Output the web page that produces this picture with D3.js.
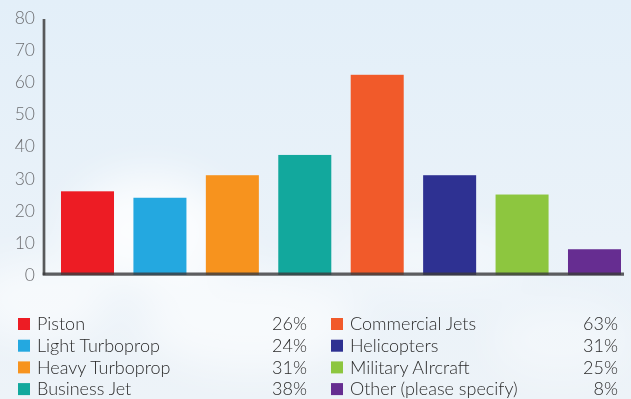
<!DOCTYPE html>
<html>
<head>
<meta charset="utf-8">
<script src="https://cdn.jsdelivr.net/npm/d3@7"></script>
<style>
  html, body { margin: 0; padding: 0; }
  body { width: 631px; height: 399px; overflow: hidden; }
  text { font-family: Lato, "Open Sans", sans-serif; }
</style>
</head>
<body>
<div id="vis"></div>
<script>
// aircraft types, bar values, legend labels
const categories = ['Piston', 'Light Turboprop', 'Heavy Turboprop', 'Business Jet',
                    'Commercial Jets', 'Helicopters', 'Military AIrcraft', 'Other (please specify)']
const values = [26, 24, 31, 37.3, 62.2, 31, 25, 8]
const pctLabels = ['26%', '24%', '31%', '38%', '63%', '31%', '25%', '8%']
const colors = ['#ed1c24', '#24a8e0', '#f7931e', '#12a89d', '#f15a2a', '#2e3192', '#8dc63f', '#662d91']
const yTicks = [0, 10, 20, 30, 40, 50, 60, 70, 80]

const W = 631, H = 399

const svg = d3.select('#vis')
    .append('svg')
    .attr('width', W)
    .attr('height', H)

// sky background
const defs = svg.append('defs')
const sky = defs.append('linearGradient').attr('id', 'sky')
    .attr('x1', 0).attr('y1', 0).attr('x2', 0).attr('y2', 1)
sky.append('stop').attr('offset', '0%').attr('stop-color', '#e3eff9')
sky.append('stop').attr('offset', '60%').attr('stop-color', '#eaf2f9')
sky.append('stop').attr('offset', '100%').attr('stop-color', '#edf3f8')

defs.append('filter').attr('id', 'blur')
    .attr('x', '-50%').attr('y', '-50%').attr('width', '200%').attr('height', '200%')
  .append('feGaussianBlur').attr('stdDeviation', 20)

svg.append('rect').attr('width', W).attr('height', H).attr('fill', 'url(#sky)')

// soft clouds
const clouds = [
  {x: 150, y: 230, rx: 80, ry: 55, o: 0.8},
  {x: 40, y: 300, rx: 70, ry: 40, o: 0.6},
  {x: 250, y: 320, rx: 110, ry: 50, o: 0.6},
  {x: 430, y: 260, rx: 100, ry: 35, o: 0.4},
  {x: 560, y: 340, rx: 70, ry: 40, o: 0.35}
]
svg.append('g').attr('filter', 'url(#blur)')
  .selectAll('ellipse')
  .data(clouds)
  .join('ellipse')
    .attr('cx', d => d.x).attr('cy', d => d.y)
    .attr('rx', d => d.rx).attr('ry', d => d.ry)
    .attr('fill', '#ffffff')
    .attr('opacity', d => d.o)

const axisX = 44, axisRight = 624

const xScale = d3.scaleBand()
    .domain(categories)
    .range([axisX, axisRight])
    .paddingInner(0.268)
    .paddingOuter(0.138)
    .align(0.85)

const yScale = d3.scaleLinear()
    .domain([0, 80])
    .range([275, 17.5])

// tick labels
svg.append('g')
  .selectAll('text')
  .data(yTicks)
  .join('text')
    .attr('x', 35)
    .attr('y', d => yScale(d))
    .attr('dy', '0.35em')
    .attr('text-anchor', 'end')
    .attr('font-size', 17.5)
    .attr('font-weight', 300)
    .attr('fill', '#6d6e71')
    .text(d => d)

// bars
const bars = svg.append('g')
  .selectAll('rect')
  .data(values)
  .join('rect')
    .attr('x', (d, i) => xScale(categories[i]))
    .attr('y', d => yScale(d))
    .attr('width', xScale.bandwidth())
    .attr('height', d => yScale(0) - yScale(d))
    .attr('fill', (d, i) => colors[i])

// axis lines
svg.append('line')
    .attr('x1', axisX).attr('x2', axisX)
    .attr('y1', yScale(80) + 1.5).attr('y2', yScale(0))
    .attr('stroke', '#58595b').attr('stroke-width', 2.7)
svg.append('line')
    .attr('x1', axisX - 1.3).attr('x2', axisRight)
    .attr('y1', yScale(0) - 0.8).attr('y2', yScale(0) - 0.8)
    .attr('stroke', '#3a3b3d').attr('stroke-width', 3.2)
    .attr('stroke-opacity', 0.82)

// commercial jets bar sits over the axis
bars.filter((d, i) => i === 4).raise()

// legend, two columns of four
const legend = svg.append('g')
const cols = [{sx: 18, tx: 37, px: 307}, {sx: 331, tx: 350, px: 618}]

const rows = legend.selectAll('g')
  .data(categories)
  .join('g')
    .attr('transform', (d, i) => `translate(0, ${324 + (i % 4) * 21.7})`)

rows.append('rect')
    .attr('x', (d, i) => cols[Math.floor(i / 4)].sx)
    .attr('y', -6)
    .attr('width', 12)
    .attr('height', 12)
    .attr('fill', (d, i) => colors[i])

rows.append('text')
    .attr('x', (d, i) => cols[Math.floor(i / 4)].tx)
    .attr('dy', '0.35em')
    .attr('font-size', 18)
    .attr('font-weight', 300)
    .attr('fill', '#2b2b2b')
    .text(d => d)

rows.append('text')
    .attr('x', (d, i) => cols[Math.floor(i / 4)].px)
    .attr('dy', '0.35em')
    .attr('text-anchor', 'end')
    .attr('font-size', 18)
    .attr('font-weight', 300)
    .attr('fill', '#2b2b2b')
    .text((d, i) => pctLabels[i])
</script>
</body>
</html>
